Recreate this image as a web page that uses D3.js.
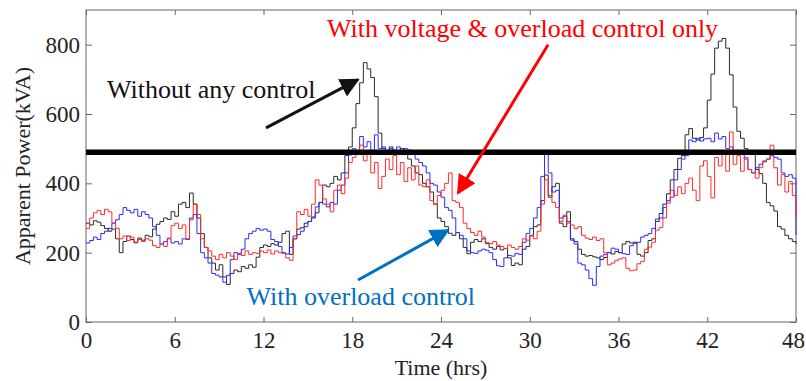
<!DOCTYPE html>
<html>
<head>
<meta charset="utf-8">
<script src="https://d3js.org/d3.v7.min.js"></script>
<style>
  body { margin: 0; background: #fff; }
  svg { display: block; font-family: "Liberation Serif", "Times New Roman", serif; }
  .axis path, .axis line { stroke: #666; }
  .axis text { font-family: "Liberation Serif", serif; font-size: 23px; fill: #222; }
</style>
</head>
<body>
<div id="chart"></div>
<script>
// sample interval of the traces (hrs)
var sampleStep = 0.25;

// apparent power (kVA), one value every 0.25 h from 0 to 48 h
var withoutControl = [
  285,280,292,288,278,270,262,268,
  240,200,232,248,238,230,242,236,
  250,246,268,282,290,300,296,318,
  305,340,345,330,372,340,300,255,
  215,185,170,150,165,130,108,140,
  150,145,160,155,165,158,187,215,
  222,218,226,222,230,255,262,195,
  240,268,272,285,290,300,315,345,
  395,390,400,420,410,430,480,505,
  560,630,690,748,730,705,650,545,
  500,492,505,495,488,500,492,470,
  450,430,425,400,390,375,340,300,
  290,275,256,250,258,240,215,197,
  230,238,232,240,226,215,210,218,
  208,212,185,163,170,165,210,218,
  250,275,280,350,424,360,390,400,
  285,275,318,240,232,210,195,190,
  192,188,185,180,186,200,196,203,
  200,225,232,228,230,195,190,200,
  235,240,290,313,340,370,410,440,
  472,480,540,558,530,525,532,560,
  640,715,790,810,818,790,713,620,
  550,530,500,495,485,440,428,400,
  345,335,320,275,268,250,240,232,
  225
];

var voltageOverload = [
  270,300,315,322,310,325,318,285,
  270,240,248,235,245,228,238,232,
  240,236,220,215,225,218,242,278,
  285,270,280,240,295,340,310,240,
  215,205,190,180,195,185,200,190,
  180,198,192,205,195,200,198,205,
  200,208,196,205,200,198,185,178,
  240,318,310,325,305,340,410,395,
  355,340,318,380,395,370,415,460,
  475,495,510,465,490,430,460,385,
  420,470,440,480,425,460,405,445,
  410,450,395,390,410,350,340,365,
  380,400,430,350,345,330,285,270,
  258,250,262,245,230,226,232,222,
  218,212,222,215,210,218,240,236,
  248,240,262,340,410,365,345,330,
  290,308,285,280,270,275,250,242,
  238,245,235,240,200,165,170,178,
  182,185,155,148,150,168,175,210,
  216,230,265,273,300,343,380,365,
  390,370,400,415,380,350,450,465,
  420,358,475,450,485,435,548,455,
  480,435,475,440,430,415,445,465,
  470,510,445,395,425,375,405,365,
  300
];

var overloadOnly = [
  228,235,245,238,255,262,270,285,
  295,310,330,322,315,325,305,318,
  310,300,275,250,225,232,240,228,
  232,225,240,238,300,310,255,200,
  185,170,140,135,130,115,135,180,
  200,195,210,240,255,262,270,265,
  268,262,238,232,218,200,196,215,
  248,252,262,275,290,303,332,345,
  340,332,345,340,380,395,430,482,
  500,490,535,505,520,495,540,500,
  505,490,500,495,505,490,500,496,
  490,470,460,450,430,400,395,375,
  360,330,322,300,258,250,240,205,
  200,198,205,210,207,200,180,162,
  160,185,192,190,198,195,230,255,
  270,300,330,420,487,430,375,380,
  300,305,290,236,225,170,165,150,
  125,106,160,190,195,200,213,210,
  200,197,195,220,227,230,245,250,
  255,270,297,300,330,350,360,410,
  440,470,480,525,520,530,522,528,
  530,520,545,528,535,500,505,490,
  495,485,470,440,430,445,455,462,
  470,480,475,470,430,420,425,415,
  250
];

var xTicks = [0, 6, 12, 18, 24, 30, 36, 42, 48];
var yTicks = [0, 200, 400, 600, 800];
var powerLimit = 490;

var seriesColors = ["#2a2a2a", "#2a2aff", "#ff2a2a"];

// annotation text: [hr, kVA] of text start
var noteTexts = ["Without any control", "With voltage & overload control only", "With overload control"];
var notePos = [[1.42, 647], [16.3, 823], [10.85, 48]];
var noteColors = ["#111", "#ff0000", "#0070c0"];
// arrows: tail and tip in [hr, kVA]
var arrowTail = [[12.17, 560], [31.24, 800], [18.39, 121]];
var arrowTip = [[18.39, 699], [25.15, 372], [24.48, 265]];

var svgWidth = 806, svgHeight = 381;
var margin = {top: 10, right: 10, bottom: 59, left: 86};
var w = svgWidth - margin.left - margin.right;
var h = svgHeight - margin.top - margin.bottom;

var svg = d3.select("#chart").append("svg")
    .attr("width", svgWidth)
    .attr("height", svgHeight);

var g = svg.append("g")
    .attr("transform", "translate(" + margin.left + "," + margin.top + ")");

var x = d3.scaleLinear().domain([0, 48]).range([0, w]);
var y = d3.scaleLinear().domain([0, 900]).range([h, 0]);

// frame
g.append("rect")
    .attr("width", w).attr("height", h)
    .attr("fill", "none").attr("stroke", "#666").attr("stroke-width", 1);

// axes, ticks pointing inward on all four sides
var xAxisG = g.append("g").attr("class", "axis")
    .attr("transform", "translate(0," + h + ")")
    .call(d3.axisBottom(x).tickValues(xTicks).tickSizeInner(-5).tickSizeOuter(0).tickPadding(10));
// last label sits right at the window edge
xAxisG.selectAll(".tick text").filter(function(d) { return d === 48; }).attr("dx", "-3");
g.append("g").attr("class", "axis")
    .call(d3.axisTop(x).tickValues(xTicks).tickSizeInner(-5).tickSizeOuter(0).tickFormat(""));
g.append("g").attr("class", "axis")
    .call(d3.axisLeft(y).tickValues(yTicks).tickSizeInner(-6).tickSizeOuter(0).tickPadding(6));
g.append("g").attr("class", "axis")
    .attr("transform", "translate(" + w + ",0)")
    .call(d3.axisRight(y).tickValues(yTicks).tickSizeInner(-6).tickSizeOuter(0).tickFormat(""));
g.selectAll(".axis .domain").remove();

// traces (stepped, like the sampled simulation output)
var line = d3.line()
    .curve(d3.curveStepAfter)
    .x(function(d, i) { return x(i * sampleStep); })
    .y(function(d) { return y(d); });

var allSeries = [withoutControl, overloadOnly, voltageOverload];
allSeries.forEach(function(vals, k) {
    g.append("path")
        .datum(vals)
        .attr("fill", "none")
        .attr("stroke", seriesColors[k])
        .attr("stroke-width", 1)
        .attr("d", line);
});

// limit line
g.append("line")
    .attr("x1", x(0)).attr("x2", x(48))
    .attr("y1", y(powerLimit)).attr("y2", y(powerLimit))
    .attr("stroke", "#000").attr("stroke-width", 5.5);

// arrows
var defs = svg.append("defs");
noteColors.forEach(function(c, k) {
    defs.append("marker")
        .attr("id", "head" + k)
        .attr("viewBox", "0 0 10 10")
        .attr("refX", 9).attr("refY", 5)
        .attr("markerWidth", 6.5).attr("markerHeight", 6.5)
        .attr("markerUnits", "strokeWidth")
        .attr("orient", "auto")
      .append("path")
        .attr("d", "M0,0 L10,5 L0,10 z")
        .attr("fill", c);
});
arrowTail.forEach(function(t, k) {
    g.append("line")
        .attr("x1", x(t[0])).attr("y1", y(t[1]))
        .attr("x2", x(arrowTip[k][0])).attr("y2", y(arrowTip[k][1]))
        .attr("stroke", noteColors[k])
        .attr("stroke-width", 3)
        .attr("marker-end", "url(#head" + k + ")");
});

// annotation labels
noteTexts.forEach(function(t, k) {
    g.append("text")
        .attr("x", x(notePos[k][0])).attr("y", y(notePos[k][1]))
        .attr("fill", noteColors[k])
        .attr("font-size", "26px")
        .text(t);
});

// axis titles
svg.append("text")
    .attr("x", margin.left + w / 2).attr("y", 375)
    .attr("text-anchor", "middle")
    .attr("font-size", "22px").attr("fill", "#222")
    .text("Time (hrs)");
svg.append("text")
    .attr("transform", "translate(22," + (margin.top + h / 2) + ") rotate(-90)")
    .attr("text-anchor", "middle").attr("dy", "0.35em")
    .attr("font-size", "22px").attr("fill", "#222")
    .text("Apparent Power(kVA)");
</script>
</body>
</html>
